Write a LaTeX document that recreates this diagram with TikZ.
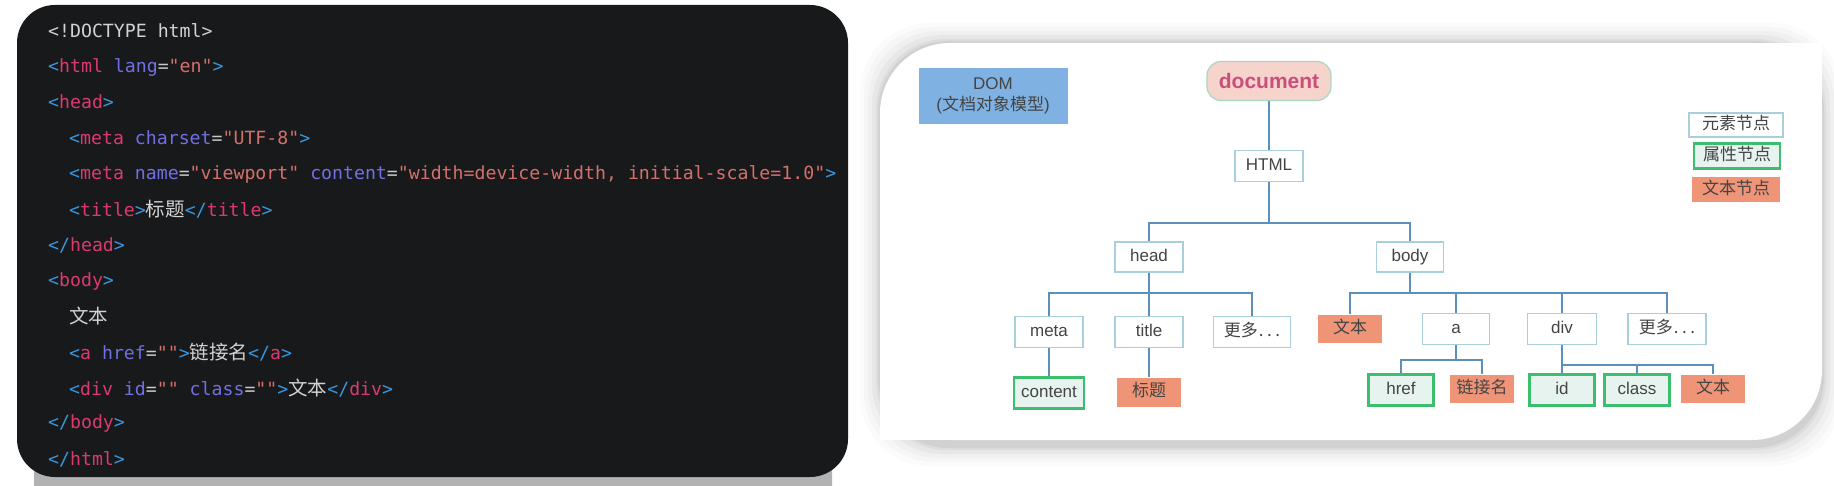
\documentclass[tikz,border=0pt]{standalone}
\usepackage{fontspec}
\setmainfont{Liberation Sans}
\setmonofont{DejaVu Sans Mono}
\newfontfamily\cjk{Noto Sans CJK SC}
\usetikzlibrary{positioning}

\definecolor{panel}{HTML}{18191B}
\definecolor{stripgray}{HTML}{B2B2B2}
\definecolor{ctext}{HTML}{D2D2D2}
\definecolor{cpunct}{HTML}{3A96DD}
\definecolor{ctag}{HTML}{DB3A6E}
\definecolor{cattr}{HTML}{7070E2}
\definecolor{cval}{HTML}{D4706A}
\definecolor{ceq}{HTML}{C8C8C8}
\definecolor{elemline}{HTML}{A9CFDC}
\definecolor{attrline}{HTML}{3DBD6E}
\definecolor{attrfill}{HTML}{E6F3EF}
\definecolor{txtfill}{HTML}{EF9476}
\definecolor{wireblue}{HTML}{5C8FBA}
\definecolor{docfill}{HTML}{F6D3CB}
\definecolor{docline}{HTML}{A8D8C4}
\definecolor{doctext}{HTML}{C94F7C}
\definecolor{domfill}{HTML}{7FB2E3}
\definecolor{treetext}{HTML}{444444}

\newcommand{\pnc}[1]{\textcolor{cpunct}{#1}}
\newcommand{\tgn}[1]{\textcolor{ctag}{#1}}
\newcommand{\atn}[1]{\textcolor{cattr}{#1}}
\newcommand{\vln}[1]{\textcolor{cval}{#1}}
\newcommand{\eqs}{\textcolor{ceq}{=}}
\newcommand{\zh}[1]{{\cjk\fontsize{19.5}{20}\selectfont #1}}
\newcommand{\more}{更多\hspace{1pt}.\hspace{3.5pt}.\hspace{3.5pt}.}

\begin{document}
\begin{tikzpicture}[x=1pt,y=-1pt,
  code/.style={anchor=west,inner sep=0pt,text=ctext,font=\ttfamily\fontsize{18.2}{20}\selectfont},
  elem/.style={draw=elemline,line width=1.5pt,fill=white,text=treetext,
    minimum width=68pt,minimum height=31pt,inner sep=0pt,
    text height=12.5pt,text depth=3.5pt,font=\fontsize{17}{20}\selectfont},
  attr/.style={elem,draw=attrline,line width=2.5pt,fill=attrfill},
  txt/.style={elem,draw=none,fill=txtfill,minimum width=64pt,minimum height=28pt},
  cjkfont/.style={font=\cjk\fontsize{17}{20}\selectfont},
  wire/.style={draw=wireblue,line width=1.5pt}
  ]
\useasboundingbox (0,0) rectangle (1834,486);
\clip (0,0) rectangle (1834,486);
\fill[white] (0,0) rectangle (1834,486);

% code panel
\fill[stripgray,rounded corners=30pt] (34,420) rectangle (832,520);
\fill[panel,rounded corners=38pt] (17,5) rectangle (848,477);
\node[code] (l1) at (48,31) {<!DOCTYPE html>};
\node[code] (l2) at (48,67) {\pnc{<}\tgn{html} \atn{lang}\eqs\vln{"en"}\pnc{>}};
\node[code] (l3) at (48,102) {\pnc{<}\tgn{head}\pnc{>}};
\node[code] (l4) at (69,138) {\pnc{<}\tgn{meta} \atn{charset}\eqs\vln{"UTF-8"}\pnc{>}};
\node[code] (l5) at (69,174) {\pnc{<}\tgn{meta} \atn{name}\eqs\vln{"viewport"} \atn{content}\eqs\vln{"width=device-width, initial-scale=1.0"}\pnc{>}};
\node[code] (l6) at (69,209) {\pnc{<}\tgn{title}\pnc{>}\zh{标题}\pnc{</}\tgn{title}\pnc{>}};
\node[code] (l7) at (48,245) {\pnc{</}\tgn{head}\pnc{>}};
\node[code] (l8) at (48,281) {\pnc{<}\tgn{body}\pnc{>}};
\node[code] (l9) at (69,316) {\zh{文本}};
\node[code] (l10) at (69,352) {\pnc{<}\tgn{a} \atn{href}\eqs\vln{""}\pnc{>}\zh{链接名}\pnc{</}\tgn{a}\pnc{>}};
\node[code] (l11) at (69,388) {\pnc{<}\tgn{div} \atn{id}\eqs\vln{""} \atn{class}\eqs\vln{""}\pnc{>}\zh{文本}\pnc{</}\tgn{div}\pnc{>}};
\node[code] (l12) at (48,423) {\pnc{</}\tgn{body}\pnc{>}};
\node[code] (l13) at (48,459) {\pnc{</}\tgn{html}\pnc{>}};

% DOM card
\foreach \s/\o in {20/0.015,16/0.02,12/0.025,8/0.035,4/0.045,2/0.05}
  \fill[black,opacity=\o,rounded corners=70pt] (880-\s,43-\s) rectangle (1822+\s,440+\s+6);
\fill[white,rounded corners=70pt] (880,43) rectangle (1822,440);
\fill[white] (1750,43) rectangle (1822,115);
\fill[white] (880,368) rectangle (952,440);

\node[fill=domfill,minimum width=149pt,minimum height=56pt,align=center,text=treetext,
  font=\fontsize{17}{21}\selectfont] (dom) at (993,96) {DOM\\({\cjk 文档对象模型})};
\node[draw=docline,line width=1.2pt,fill=docfill,rounded corners=14pt,minimum width=124pt,
  minimum height=39pt,text=doctext,font=\bfseries\fontsize{21}{24}\selectfont] (doc) at (1269,81) {document};
\node[elem] (html) at (1269,166) {HTML};
\node[elem,minimum height=30pt] (head) at (1149,257) {head};
\node[elem,minimum height=30pt,minimum width=67pt] (body) at (1410,257) {body};
\node[elem] (meta) at (1049,332) {meta};
\node[elem] (title) at (1149,332) {title};
\node[elem,cjkfont,minimum width=77pt] (moreh) at (1252,332) {\more};
\node[attr,minimum width=70pt] (content) at (1049,393) {content};
\node[txt,cjkfont,minimum height=29pt] (titletxt) at (1149,392) {标题};
\node[txt,cjkfont] (bodytxt) at (1350,329) {文本};
\node[elem,minimum width=67pt] (a) at (1456,329) {a};
\node[elem,minimum width=69pt] (div) at (1562,329) {div};
\node[elem,cjkfont,minimum width=78pt] (moreb) at (1667,329) {\more};
\node[attr,minimum width=65pt] (href) at (1401,390) {href};
\node[txt,cjkfont] (link) at (1482,389) {链接名};
\node[attr,minimum width=65pt] (id) at (1562,390) {id};
\node[attr,minimum width=65pt] (class) at (1637,390) {class};
\node[txt,cjkfont] (divtxt) at (1713,389) {文本};

\node[elem,cjkfont,minimum width=94pt,minimum height=24pt] (leg1) at (1736,125) {元素节点};
\node[attr,cjkfont,minimum width=86pt,minimum height=25pt] (leg2) at (1737,156) {属性节点};
\node[txt,cjkfont,minimum width=88pt,minimum height=25pt] (leg3) at (1736,190) {文本节点};

\coordinate (bar0) at (0,223);
\coordinate (bar1) at (0,293);
\coordinate (bar2) at (0,360);
\coordinate (bar3) at (0,365);
\draw[wire] (doc) -- (html);
\foreach \c in {head,body}
  \draw[wire] (html.south) -- (html.south |- bar0) -| (\c.north);
\foreach \c in {meta,title,moreh}
  \draw[wire] (head.south) -- (head.south |- bar1) -| (\c.north);
\foreach \c in {bodytxt,a,div,moreb}
  \draw[wire] (body.south) -- (body.south |- bar1) -| (\c.north);
\draw[wire] (meta) -- (content);
\draw[wire] (title) -- (titletxt);
\foreach \c in {href,link}
  \draw[wire] (a.south) -- (a.south |- bar2) -| (\c.north);
\foreach \c in {id,class,divtxt}
  \draw[wire] (div.south) -- (div.south |- bar3) -| (\c.north);
\end{tikzpicture}
\end{document}
